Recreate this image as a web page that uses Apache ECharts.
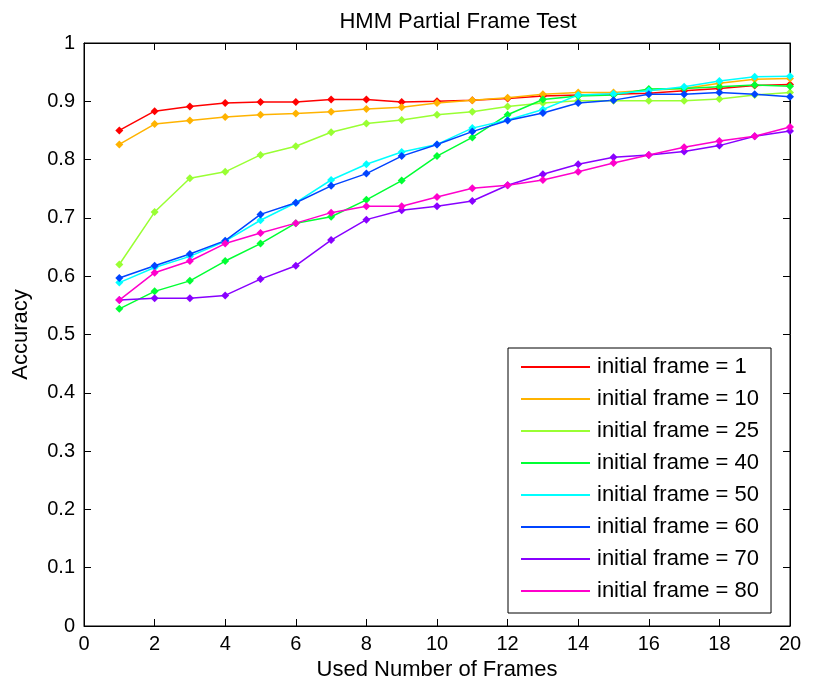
<!DOCTYPE html>
<html>
<head>
<meta charset="utf-8">
<script src="https://cdn.jsdelivr.net/npm/echarts@6/dist/echarts.min.js"></script>
<style>html,body{margin:0;padding:0;background:#fff}#c{width:813px;height:688px}</style>
</head>
<body>
<div id="c"></div>
<script>
const frames = [1,2,3,4,5,6,7,8,9,10,11,12,13,14,15,16,17,18,19,20];
const xTicks = [0,2,4,6,8,10,12,14,16,18,20];
const yTicks = [0,0.1,0.2,0.3,0.4,0.5,0.6,0.7,0.8,0.9,1];
const seriesNames = ['initial frame = 1','initial frame = 10','initial frame = 25','initial frame = 40','initial frame = 50','initial frame = 60','initial frame = 70','initial frame = 80'];
const init1  = [0.850,0.883,0.891,0.897,0.899,0.899,0.903,0.903,0.899,0.900,0.902,0.905,0.909,0.911,0.912,0.914,0.918,0.922,0.927,0.929];
const init10 = [0.826,0.861,0.867,0.873,0.877,0.879,0.882,0.887,0.890,0.897,0.902,0.906,0.912,0.915,0.915,0.919,0.922,0.931,0.938,0.939];
const init25 = [0.620,0.710,0.768,0.779,0.808,0.823,0.847,0.862,0.868,0.877,0.882,0.891,0.897,0.901,0.901,0.901,0.901,0.904,0.911,0.915];
const init40 = [0.544,0.574,0.592,0.626,0.656,0.691,0.702,0.731,0.764,0.806,0.838,0.877,0.903,0.909,0.911,0.921,0.922,0.925,0.928,0.926];
const init50 = [0.589,0.615,0.634,0.660,0.696,0.726,0.765,0.792,0.813,0.826,0.854,0.868,0.886,0.911,0.913,0.918,0.925,0.935,0.942,0.943];
const init60 = [0.597,0.618,0.638,0.661,0.706,0.726,0.755,0.776,0.806,0.826,0.848,0.867,0.880,0.897,0.902,0.912,0.912,0.915,0.912,0.908];
const init70 = [0.559,0.562,0.562,0.567,0.595,0.618,0.662,0.697,0.713,0.720,0.729,0.756,0.775,0.792,0.804,0.808,0.814,0.824,0.840,0.849];
const init80 = [0.559,0.606,0.626,0.656,0.674,0.691,0.709,0.720,0.720,0.736,0.751,0.756,0.765,0.779,0.794,0.808,0.821,0.832,0.840,0.856];
const allValues = [init1,init10,init25,init40,init50,init60,init70,init80];
const colors = ['#ff0000','#ffb300','#99ff33','#00ff33','#00ffff','#0044ff','#8800ff','#ff00cc'];

const FONT = 'Liberation Sans';
const FS = 22;
const FST = 20;
const axisCommon = {
  show: true,
  axisLine: {show: true, onZero: false, lineStyle: {color: '#000', width: 1}},
  axisTick: {show: true, inside: true, length: 7, lineStyle: {color: '#000'}},
  splitLine: {show: false}
};
const series = allValues.map((vals, i) => ({
  name: seriesNames[i],
  type: 'line',
  data: frames.map((f, j) => [f, vals[j]]),
  symbol: 'diamond',
  symbolSize: 8,
  showSymbol: true,
  lineStyle: {color: colors[i], width: 1.5},
  itemStyle: {color: colors[i]},
  animation: false
}));
const chart = echarts.init(document.getElementById('c'), null, {renderer: 'canvas'});
chart.setOption({
  backgroundColor: '#fff',
  animation: false,
  title: {text: 'HMM Partial Frame Test', left: 453, top: 6, textAlign: 'center',
    textStyle: {fontFamily: FONT, fontSize: FS, fontWeight: 'normal', color: '#000'}},
  grid: {left: 84, right: 23, top: 43, bottom: 62, show: true, borderColor: '#000', borderWidth: 1, containLabel: false},
  legend: {
    orient: 'vertical', left: 508, top: 348,
    padding: [8, 12, 11, 13],
    backgroundColor: '#fff', borderColor: '#000', borderWidth: 1,
    icon: 'rect', itemWidth: 69, itemHeight: 2, itemGap: 10,
    textStyle: {fontFamily: FONT, fontSize: FS, color: '#000', lineHeight: 22, padding: [0,0,0,2]},
    data: seriesNames
  },
  xAxis: [
    Object.assign({type: 'value', min: 0, max: 20, interval: 2, position: 'bottom',
      name: 'Used Number of Frames', nameLocation: 'middle', nameGap: 33,
      nameTextStyle: {fontFamily: FONT, fontSize: FS, color: '#000'},
      axisLabel: {fontFamily: FONT, fontSize: FST, color: '#000', margin: 8,
        formatter: v => xTicks.includes(v) ? String(v) : ''}}, axisCommon),
    Object.assign({type: 'value', min: 0, max: 20, interval: 2, position: 'top',
      axisLabel: {show: false}}, axisCommon)
  ],
  yAxis: [
    Object.assign({type: 'value', min: 0, max: 1, interval: 0.1, position: 'left',
      name: 'Accuracy', nameLocation: 'middle', nameGap: 52, nameRotate: 90,
      nameTextStyle: {fontFamily: FONT, fontSize: FS, color: '#000'},
      axisLabel: {fontFamily: FONT, fontSize: FST, color: '#000', margin: 9,
        formatter: v => { const t = yTicks.find(y => Math.abs(y - v) < 1e-9); return t === undefined ? '' : String(t); }}}, axisCommon),
    Object.assign({type: 'value', min: 0, max: 1, interval: 0.1, position: 'right',
      axisLabel: {show: false}}, axisCommon)
  ],
  series: series
});
</script>
</body>
</html>
